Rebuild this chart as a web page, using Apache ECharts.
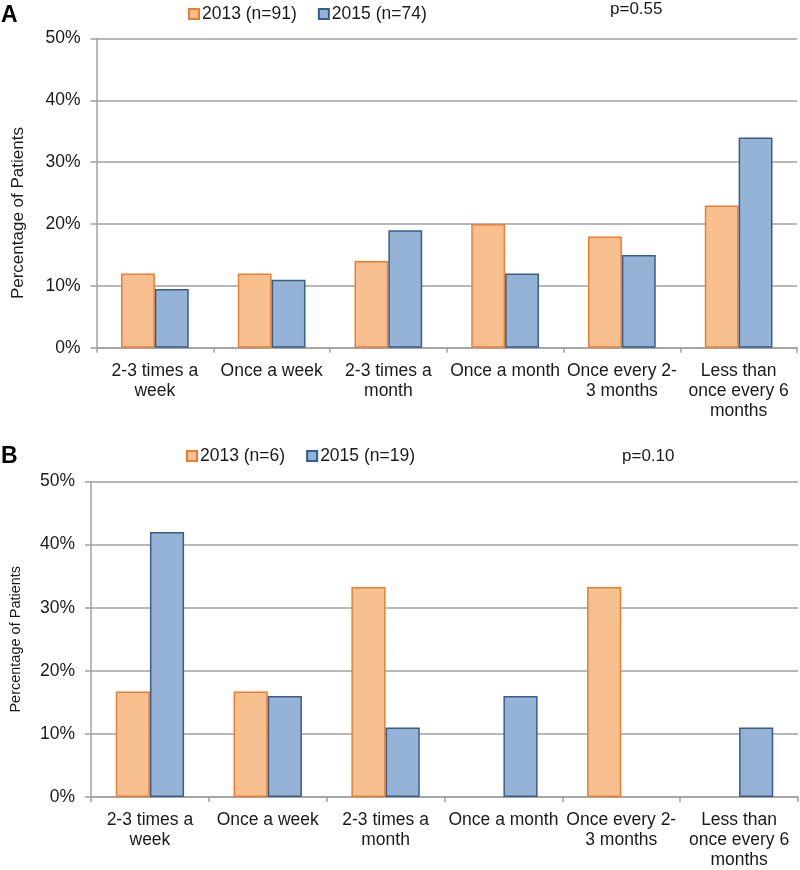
<!DOCTYPE html>
<html>
<head>
<meta charset="utf-8">
<script src="https://cdn.jsdelivr.net/npm/echarts@6/dist/echarts.min.js"></script>
<style>
html,body{margin:0;padding:0;background:#fff;}
#c{width:800px;height:870px;}
</style>
</head>
<body>
<div id="c"></div>
<script>
const categories = ['2-3 times a\nweek', 'Once a week', '2-3 times a\nmonth', 'Once a month', 'Once every 2-\n3 months', 'Less than\nonce every 6\nmonths'];
const seriesNamesA = ['2013 (n=91)', '2015 (n=74)'];
const seriesNamesB = ['2013 (n=6)', '2015 (n=19)'];
const a2013 = [12, 12, 14, 20, 18, 23];
const a2015 = [9.5, 11, 19, 12, 15, 34];
const b2013 = [16.7, 16.7, 33.3, 0, 33.3, 0];
const b2015 = [42, 16, 11, 16, 0, 11];
const pA = 'p=0.55';
const pB = 'p=0.10';
const yAxisName = 'Percentage of Patients';

const FONT = "'Liberation Sans', Arial, sans-serif";
const GRAY = '#a0a0a0';
const ORANGE_FILL = '#f9c08f';
const ORANGE_EDGE = '#ed7d31';
const BLUE_FILL = '#95b3d7';
const BLUE_EDGE = '#385d8a';

function prep(arr){
  return arr.map(v => v === 0 ? {value: 0, itemStyle: {borderWidth: 0}} : v);
}
function xAxis(gi){
  return {
    type: 'category', gridIndex: gi, data: categories,
    axisLine: {show: true, lineStyle: {color: GRAY, width: 1.5}},
    axisTick: {show: true, length: 5, interval: 0, lineStyle: {color: GRAY, width: 1.5}},
    axisLabel: {interval: 0, margin: 13, fontSize: 17.5, lineHeight: 20, color: '#1a1a1a', fontFamily: FONT}
  };
}
function yAxis(gi, gap, nameSize, pad){
  return {
    type: 'value', gridIndex: gi, min: 0, max: 50, interval: 10,
    name: yAxisName, nameLocation: 'middle', nameGap: gap,
    nameTextStyle: {fontSize: nameSize, color: '#1a1a1a', fontFamily: FONT, padding: pad},
    axisLine: {show: true, lineStyle: {color: GRAY, width: 1.5}},
    axisTick: {show: true, length: 6, lineStyle: {color: GRAY, width: 1.5}},
    axisLabel: {formatter: '{value}%', fontSize: 17.5, color: '#1a1a1a', fontFamily: FONT, margin: 16},
    splitLine: {show: true, lineStyle: {color: GRAY, width: 1.5}}
  };
}
function bar(name, data, gi, fill, edge){
  return {
    type: 'bar', name: name, xAxisIndex: gi, yAxisIndex: gi, data: prep(data),
    barGap: '0%', barCategoryGap: '42%',
    itemStyle: {color: fill, borderColor: edge, borderWidth: 1.5},
    emphasis: {disabled: true}
  };
}
function legend(names, left, top){
  return {
    data: names, left: left, top: top, itemWidth: 10, itemHeight: 10, itemGap: 21,
    icon: 'rect', selectedMode: false,
    textStyle: {fontSize: 17.5, color: '#1a1a1a', fontFamily: FONT, padding: [0,0,0,-2]}
  };
}

const chart = echarts.init(document.getElementById('c'), null, {renderer: 'canvas'});
chart.setOption({
  animation: false,
  backgroundColor: '#fff',
  textStyle: {fontFamily: FONT},
  title: [
    {text: 'A', left: 1, top: 4, padding: 0, textStyle: {fontSize: 23, fontWeight: 'bold', color: '#000', fontFamily: FONT}},
    {text: 'B', left: 1, top: 445, padding: 0, textStyle: {fontSize: 23, fontWeight: 'bold', color: '#000', fontFamily: FONT}},
    {text: pA, left: 610, top: 1, padding: 0, textStyle: {fontSize: 17, fontWeight: 'normal', color: '#1a1a1a', fontFamily: FONT}},
    {text: pB, left: 622, top: 448, padding: 0, textStyle: {fontSize: 17, fontWeight: 'normal', color: '#1a1a1a', fontFamily: FONT}}
  ],
  legend: [legend(seriesNamesA, 183, 0), legend(seriesNamesB, 181, 442)],
  grid: [
    {left: 96.5, right: 3, top: 38.5, height: 309.2},
    {left: 87, right: 2, top: 481.5, height: 319.2}
  ],
  xAxis: [xAxis(0), xAxis(1)],
  yAxis: [yAxis(0, 70, 17, [0, 40, 0, 0]), yAxis(1, 68, 14.5, [0, 0, 0, 0])],
  series: [
    bar(seriesNamesA[0], a2013, 0, ORANGE_FILL, ORANGE_EDGE),
    bar(seriesNamesA[1], a2015, 0, BLUE_FILL, BLUE_EDGE),
    bar(seriesNamesB[0], b2013, 1, ORANGE_FILL, ORANGE_EDGE),
    bar(seriesNamesB[1], b2015, 1, BLUE_FILL, BLUE_EDGE)
  ]
});
</script>
</body>
</html>
